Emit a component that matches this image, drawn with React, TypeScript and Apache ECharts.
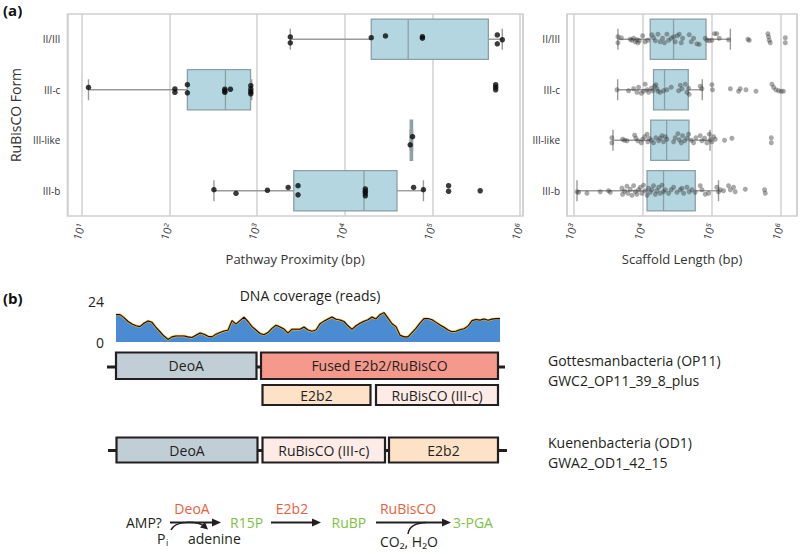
import React, { useEffect, useRef } from 'react';
import * as echarts from 'echarts';

const forms = ['II/III', 'III-c', 'III-like', 'III-b'];

// [min, Q1, median, Q3, max] in bp
const proximityStats = [
  [2400, 20100, 53000, 435000, 627000],
  [12, 161, 437, 845, 870],
  [55900, 55900, 57500, 59400, 59400],
  [323, 2630, 16600, 39500, 79100],
];

// [bp, vertical jitter (fraction of a row)]
const proximityPoints = [
  [[2400, -0.045], [2400, 0.07], [20100, -0.03], [29200, -0.065], [77000, -0.05], [77000, -0.02], [550000, -0.085], [550000, 0.09], [627000, 0.01]],
  [[12, -0.045], [116, -0.015], [116, 0.05], [161, -0.1], [161, 0.06], [430, -0.01], [430, 0.02], [430, 0.05], [498, -0.01], [851, -0.08], [851, -0.01], [851, 0.04], [851, 0.08], [527000, -0.1], [527000, -0.05], [527000, 0]],
  [[59400, -0.07], [55900, 0.09]],
  [[323, -0.02], [577, 0.05], [1316, -0.01], [2270, -0.065], [2940, -0.1], [2940, 0.08], [17200, -0.035], [17200, 0.01], [17200, 0.045], [17200, 0.1], [61100, -0.065], [79100, -0.02], [153000, -0.1], [153000, 0.01], [351000, 0]],
];

const scaffoldStats = [
  [4390, 12900, 28100, 83000, 187000],
  [4350, 14400, 20800, 45900, 73300],
  [3720, 13100, 22300, 47000, 94800],
  [1120, 11600, 20100, 58000, 126000],
];

const scaffoldPoints = [
  [[4390, -0.05], [4390, 0.07], [4910, -0.03], [6620, 0], [7000, 0.02], [7410, -0.02], [7830, 0.05], [8280, 0.01], [8560, 0.07], [8950, 0.03], [10000, -0.07], [10900, 0.05], [11900, 0.02], [13650, -0.09], [14400, -0.03], [15300, 0.03], [16700, -0.1], [18000, 0.05], [19500, -0.02], [20800, 0.07], [22500, -0.1], [23800, 0.02], [26000, -0.02], [28100, -0.05], [29700, 0.05], [31800, -0.07], [34000, -0.1], [36300, 0.07], [38000, -0.02], [47400, -0.09], [50700, 0.05], [54800, -0.02], [61200, 0.09], [66200, 0.1], [80900, -0.02], [85500, 0.02], [92500, 0.03], [101000, 0.02], [110000, -0.11], [119000, -0.11], [129000, -0.02], [176000, 0.01], [336000, 0], [352000, 0.02], [655000, -0.11], [670000, -0.05], [685000, 0.02], [708000, 0.07], [1170000, -0.03], [1170000, 0.07]],
  [[4250, 0], [6260, 0.02], [7410, -0.02], [8280, 0.05], [8750, -0.05], [9570, 0.07], [10300, 0.03], [10900, -0.11], [11600, 0], [12200, 0.05], [13400, -0.03], [14000, 0.02], [14900, -0.07], [15600, -0.1], [16100, -0.02], [16700, 0.03], [18000, 0.05], [20100, 0.02], [22500, 0], [26000, -0.05], [33300, 0.02], [35200, -0.09], [37200, -0.02], [41500, -0.11], [43900, 0.05], [46400, -0.03], [47400, 0.09], [68500, -0.07], [72400, -0.02], [101000, -0.1], [103000, 0], [187000, -0.02], [246000, 0.03], [260000, -0.02], [315000, 0], [440000, 0.03], [748000, -0.11], [792000, -0.05], [855000, 0], [935000, 0.02], [1020000, 0.03], [1100000, 0.03]],
  [[3590, -0.05], [3590, 0.05], [5130, -0.02], [5480, 0], [5930, 0.01], [7660, -0.1], [8000, -0.04], [8560, 0.01], [9570, 0.05], [10000, -0.02], [10700, -0.07], [11600, -0.12], [11900, 0.03], [12500, -0.04], [13400, 0], [14400, 0.05], [15600, -0.05], [17100, 0.01], [18000, -0.04], [19100, -0.09], [20100, 0.03], [21300, -0.07], [22500, -0.02], [28100, 0.03], [29700, -0.05], [32500, -0.13], [34000, -0.01], [36300, 0.05], [38000, -0.09], [40600, 0.01], [43900, -0.04], [46400, -0.12], [50700, 0], [54800, 0.05], [59300, -0.05], [68500, -0.09], [72400, 0.01], [79200, -0.04], [85500, 0.05], [92500, -0.12], [95700, -0.01], [101000, 0.03], [107000, -0.07], [113000, -0.02], [154000, 0], [197000, -0.04], [733000, -0.05], [733000, 0.05]],
  [[1120, 0.02], [1180, 0.03], [1560, 0.05], [2430, 0.02], [3210, 0], [3400, 0.03], [5010, -0.05], [5130, 0.07], [5480, 0.01], [5930, -0.09], [6120, 0.05], [6620, -0.03], [7000, 0.09], [7410, -0.1], [7830, 0.02], [8280, 0.07], [8750, -0.02], [9250, -0.07], [9780, 0.05], [10300, -0.11], [10900, 0], [11600, 0.09], [12200, -0.05], [12900, 0.03], [13650, -0.02], [14400, -0.1], [15300, 0.07], [16100, 0], [17100, -0.07], [18000, 0.05], [19100, -0.11], [20100, 0.02], [21300, -0.02], [23800, 0.05], [26000, -0.02], [28100, -0.07], [31500, 0.03], [35200, -0.02], [37200, -0.05], [39300, 0.05], [43900, -0.07], [47400, 0.02], [51900, -0.02], [57900, 0.03], [68500, -0.1], [72400, -0.02], [80900, 0.07], [90600, 0.05], [119000, -0.07], [126000, 0.02], [134000, -0.02], [149000, 0], [176000, -0.1], [187000, -0.02], [208000, -0.07], [220000, 0.02], [308000, -0.03], [586000, -0.02], [600000, 0.05]],
];

// DNA coverage (reads) along the locus
const coverage = [
  16, 16, 14.3, 12, 10.5, 9.5, 9, 11, 12.3, 11.5, 8.5, 6, 3.5, 1.5, 3, 3.5, 3.5, 3.5, 3, 2.6,
  4, 5.3, 4.5, 3.3, 3, 4.6, 5.5, 6.4, 6.9, 12.5, 10.5, 12.5, 14.5, 12, 9, 7, 5, 4.3, 5.5, 8,
  9.8, 8.8, 7.6, 5.2, 7.5, 7.5, 7.5, 8.8, 7, 6.3, 7, 10.7, 12.2, 13.5, 14.6, 13.3, 12.9, 12, 9.5, 7.4,
  9.5, 11, 12.2, 13, 14.6, 13.5, 16, 17.2, 14, 10.7, 9, 4, 3, 3, 5.5, 8, 11, 13.7, 13.7, 13,
  11.5, 10, 8.6, 7, 6, 6.3, 7.2, 7.8, 9.3, 12.5, 13.2, 12.8, 13.5, 12.7, 13.4, 13.7, 13.7,
];
const coverageTicks = [0, 24];

const supers: Record<string, string> = { '0': '⁰', '1': '¹', '2': '²', '3': '³', '4': '⁴', '5': '⁵', '6': '⁶' };

const FONT = '"Open Sans", "DejaVu Sans", sans-serif';
const INK = '#231f20';
const BOX_FILL = '#b3d6e0';
const BOX_EDGE = '#8c9fa6';
const WHISKER = '#9a9a9a';
const ORANGE = '#e8603c';
const GREEN = '#7cc242';

function logLabel(v: number) {
  const l = Math.log10(v);
  if (Math.abs(l - Math.round(l)) > 1e-6) return '';
  return '10' + String(Math.round(l)).split('').map((c) => supers[c]).join('');
}

function boxRender(params: any, api: any) {
  const cat = api.value(0);
  const lo = api.coord([api.value(1), cat]);
  const q1 = api.coord([api.value(2), cat]);
  const med = api.coord([api.value(3), cat]);
  const q3 = api.coord([api.value(4), cat]);
  const hi = api.coord([api.value(5), cat]);
  const edge = api.coord([api.value(3), cat + 0.4]);
  const h = Math.abs(edge[1] - med[1]);
  const cap = h * 0.52;
  const y = med[1];
  const ls = { stroke: WHISKER, lineWidth: 1.4 };
  return {
    type: 'group',
    children: [
      { type: 'line', shape: { x1: lo[0], y1: y, x2: q1[0], y2: y }, style: ls },
      { type: 'line', shape: { x1: q3[0], y1: y, x2: hi[0], y2: y }, style: ls },
      { type: 'line', shape: { x1: lo[0], y1: y - cap, x2: lo[0], y2: y + cap }, style: ls },
      { type: 'line', shape: { x1: hi[0], y1: y - cap, x2: hi[0], y2: y + cap }, style: ls },
      {
        type: 'rect',
        shape: { x: q1[0], y: y - h, width: Math.max(q3[0] - q1[0], 1.5), height: 2 * h },
        style: { fill: BOX_FILL, stroke: BOX_EDGE, lineWidth: 1.3 },
      },
      { type: 'line', shape: { x1: med[0], y1: y - h, x2: med[0], y2: y + h }, style: { stroke: BOX_EDGE, lineWidth: 1.3 } },
    ],
  };
}

function txt(x: number, y: number, text: string, opts: any = {}) {
  const size = opts.size || 14;
  return {
    type: 'text',
    x,
    y,
    silent: true,
    style: {
      text,
      fill: opts.fill || INK,
      font: `${opts.weight || 'normal'} ${size}px ${FONT}`,
      lineHeight: size,
      align: opts.align || 'left',
      verticalAlign: opts.va || 'middle',
    },
  };
}

function geneBox(x: number, y: number, w: number, h: number, fill: string, label: string) {
  return [
    { type: 'rect', shape: { x, y, width: w, height: h }, style: { fill, stroke: INK, lineWidth: 2.2 } },
    txt(x + w / 2, y + h / 2, label, { align: 'center', size: 14 }),
  ];
}

function arrow(x1: number, x2: number, y: number) {
  return [
    { type: 'line', shape: { x1, y1: y, x2: x2 - 6, y2: y }, style: { stroke: INK, lineWidth: 1.8 } },
    { type: 'polygon', shape: { points: [[x2, y], [x2 - 9, y - 4], [x2 - 9, y + 4]] }, style: { fill: INK } },
  ];
}

export default function App() {
  const ref = useRef<HTMLDivElement>(null);

  useEffect(() => {
    if (!ref.current) return;
    const chart = echarts.init(ref.current, null, { renderer: 'svg' });

    const xAxisCommon = (name: string) => ({
      type: 'log',
      logBase: 10,
      name,
      nameLocation: 'middle',
      nameGap: 36,
      nameTextStyle: { fontSize: 13, color: '#333', fontFamily: FONT },
      axisLine: { show: false },
      axisTick: { show: false },
      splitLine: { show: true, lineStyle: { color: '#d0d0d0', width: 1.5 } },
      axisLabel: {
        rotate: 70,
        margin: 8,
        fontSize: 11,
        color: '#444',
        fontFamily: FONT,
        formatter: (v: number) => logLabel(v),
      },
    });

    const catAxis = (grid: number, withName: boolean) => ({
      type: 'category',
      gridIndex: grid,
      data: forms,
      inverse: true,
      boundaryGap: true,
      axisLine: { show: false },
      axisTick: { show: false },
      splitLine: { show: false },
      axisLabel: { fontSize: 10, color: '#333', margin: 7, fontFamily: FONT },
      name: withName ? 'RuBisCO Form' : '',
      nameLocation: 'middle',
      nameGap: 44,
      nameTextStyle: { fontSize: 14, color: '#333', fontFamily: FONT },
    });

    const valAxis = (grid: number) => ({
      type: 'value',
      gridIndex: grid,
      min: -0.5,
      max: 3.5,
      inverse: true,
      show: false,
    });

    const flatPoints = (pts: number[][][]) =>
      pts.flatMap((row, i) => row.map(([v, j]) => [v, i + j]));

    const graphic: any[] = [
      txt(3, 10, '(a)', { weight: 'bold', size: 15, fill: '#111' }),
      txt(3, 298, '(b)', { weight: 'bold', size: 15, fill: '#111' }),
      txt(310, 295, 'DNA coverage (reads)', { align: 'center' }),
      // genome 1
      { type: 'line', shape: { x1: 107, y1: 367, x2: 505, y2: 367 }, style: { stroke: INK, lineWidth: 3 } },
      ...geneBox(116, 352.5, 140.5, 26.5, '#c2ced5', 'DeoA'),
      ...geneBox(261, 352.5, 237, 26.5, '#f4998b', 'Fused E2b2/RuBisCO'),
      ...geneBox(262.5, 385, 108, 20, '#fde2c8', 'E2b2'),
      ...geneBox(376, 385, 122, 20, '#fdebe8', 'RuBisCO (III-c)'),
      txt(548, 360, 'Gottesmanbacteria (OP11)'),
      txt(548, 380, 'GWC2_OP11_39_8_plus'),
      // genome 2
      { type: 'line', shape: { x1: 108, y1: 450.5, x2: 507, y2: 450.5 }, style: { stroke: INK, lineWidth: 3 } },
      ...geneBox(116.5, 437.5, 141, 25, '#c2ced5', 'DeoA'),
      ...geneBox(262.5, 437.5, 122.5, 25, '#fdebe8', 'RuBisCO (III-c)'),
      ...geneBox(389, 437.5, 109, 25, '#fde2c8', 'E2b2'),
      txt(548, 442, 'Kuenenbacteria (OD1)'),
      txt(548, 462, 'GWA2_OD1_42_15'),
      // pathway
      txt(126, 522, 'AMP?'),
      txt(192, 508, 'DeoA', { align: 'center', fill: ORANGE }),
      ...arrow(170, 221, 522.5),
      { type: 'bezierCurve', shape: { x1: 171, y1: 530, cpx1: 175, cpy1: 521, cpx2: 196, cpy2: 520, x2: 204, y2: 526 }, style: { stroke: INK, lineWidth: 1.5, fill: 'none' } },
      { type: 'polygon', shape: { points: [[208, 529.5], [200, 527.5], [205, 522]] }, style: { fill: INK } },
      txt(157, 538, 'P'),
      txt(166, 542, 'i', { size: 9 }),
      txt(188, 538, 'adenine'),
      txt(230, 522, 'R15P', { fill: GREEN }),
      txt(292, 508, 'E2b2', { align: 'center', fill: ORANGE }),
      ...arrow(271, 321, 522.5),
      txt(331.5, 522, 'RuBP', { fill: GREEN }),
      txt(408, 508, 'RuBisCO', { align: 'center', fill: ORANGE }),
      ...arrow(376, 451, 522.5),
      { type: 'bezierCurve', shape: { x1: 408, y1: 534, cpx1: 409, cpy1: 527, cpx2: 414, cpy2: 523, x2: 426, y2: 522.5 }, style: { stroke: INK, lineWidth: 1.5, fill: 'none' } },
      txt(453, 522, '3-PGA', { fill: GREEN }),
      txt(380, 541, 'CO₂, H₂O'),
    ];

    chart.setOption({
      animation: false,
      textStyle: { fontFamily: FONT },
      grid: [
        { left: 63, top: 14, width: 460, height: 202, show: true, borderColor: '#cfcfcf', borderWidth: 1.5, backgroundColor: 'transparent' },
        { left: 567, top: 14, width: 230, height: 202, show: true, borderColor: '#cfcfcf', borderWidth: 1.5, backgroundColor: 'transparent' },
        { left: 116, top: 301, width: 384, height: 41 },
      ],
      xAxis: [
        { ...xAxisCommon('Pathway Proximity (bp)'), gridIndex: 0, min: 6.9, max: 1.08e6 },
        { ...xAxisCommon('Scaffold Length (bp)'), gridIndex: 1, min: 802, max: 1.73e6 },
        { type: 'category', gridIndex: 2, data: coverage.map((_, i) => i), boundaryGap: false, show: false },
      ],
      yAxis: [
        catAxis(0, true),
        valAxis(0),
        catAxis(1, false),
        valAxis(1),
        {
          type: 'value',
          gridIndex: 2,
          min: coverageTicks[0],
          max: coverageTicks[1],
          interval: coverageTicks[1],
          axisLine: { show: false },
          axisTick: { show: false },
          splitLine: { show: false },
          axisLabel: { fontSize: 14, color: INK, margin: 12, fontFamily: FONT },
        },
      ],
      series: [
        {
          type: 'custom',
          xAxisIndex: 0,
          yAxisIndex: 1,
          renderItem: boxRender,
          encode: { x: [1, 2, 3, 4, 5], y: 0 },
          data: proximityStats.map((s, i) => [i, ...s]),
          z: 2,
        },
        {
          type: 'scatter',
          xAxisIndex: 0,
          yAxisIndex: 1,
          symbolSize: 5.5,
          itemStyle: { color: '#0a0a0a' },
          data: flatPoints(proximityPoints),
          z: 3,
        },
        {
          type: 'custom',
          xAxisIndex: 1,
          yAxisIndex: 3,
          renderItem: boxRender,
          encode: { x: [1, 2, 3, 4, 5], y: 0 },
          data: scaffoldStats.map((s, i) => [i, ...s]),
          z: 2,
        },
        {
          type: 'scatter',
          xAxisIndex: 1,
          yAxisIndex: 3,
          symbolSize: 5,
          itemStyle: { color: 'rgba(60,60,60,0.55)' },
          data: flatPoints(scaffoldPoints),
          z: 3,
        },
        {
          type: 'line',
          xAxisIndex: 2,
          yAxisIndex: 4,
          data: coverage,
          showSymbol: false,
          lineStyle: { color: '#f3b23d', width: 2.4 },
          areaStyle: { color: '#4a8bd2', opacity: 1 },
          z: 2,
        },
        {
          type: 'line',
          xAxisIndex: 2,
          yAxisIndex: 4,
          data: coverage,
          showSymbol: false,
          lineStyle: { color: '#111', width: 1.1 },
          z: 3,
        },
      ],
      graphic,
    });

    return () => chart.dispose();
  }, []);

  return (
    <div
      ref={ref}
      style={{ position: 'absolute', left: 0, top: 0, width: 800, height: 554, background: '#fff' }}
    />
  );
}
